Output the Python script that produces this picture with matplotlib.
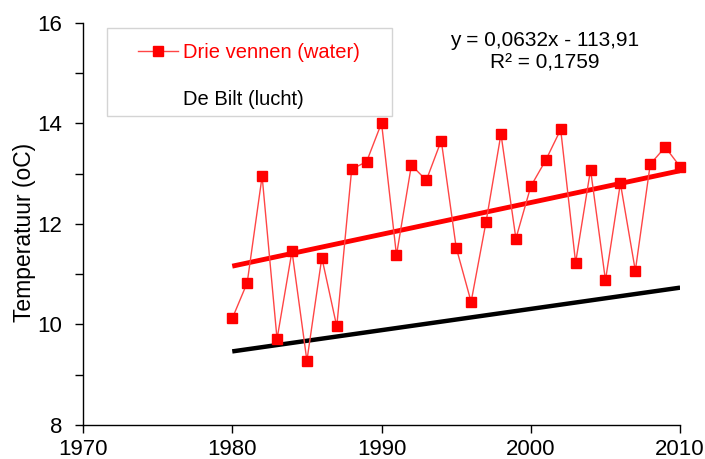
import matplotlib
matplotlib.use('Agg')
import matplotlib.pyplot as plt
from matplotlib.lines import Line2D
from matplotlib.patches import Rectangle
from matplotlib.ticker import MultipleLocator
import numpy as np

plt.rcParams['font.family'] = ['Liberation Sans', 'DejaVu Sans']

# Jaargemiddelde watertemperatuur Drie vennen
jaren = list(range(1980, 2011))
water = [10.12, 10.83, 12.95, 9.71, 11.46, 9.28, 11.33, 9.96, 13.09, 13.24,
         14.01, 11.38, 13.17, 12.87, 13.66, 11.53, 10.45, 12.04, 13.79, 11.71,
         12.75, 13.27, 13.88, 11.23, 13.08, 10.88, 12.81, 11.07, 13.19, 13.53,
         13.14]

# trendlijn De Bilt (lucht), alleen de lijn is getekend
debilt_helling = 0.0423
debilt_snijpunt = -74.29

vergelijking = 'y = 0,0632x - 113,91\nR² = 0,1759'

fig = plt.figure(figsize=(7.05, 4.59), dpi=100)
ax = fig.add_axes([0.1177, 0.0741, 0.847, 0.8759])

x = np.array(jaren, dtype=float)
y = np.array(water)

# meetwaarden
ax.plot(x, y, color='#ff4545', linewidth=1.0, zorder=3, clip_on=False)
ax.plot(x, y, linestyle='none', marker='s', markersize=6.6, color='#ff0000',
        zorder=4, clip_on=False)

# trendlijnen
coef = np.polyfit(x, y, 1)
xt = np.array([x.min(), x.max()])
ax.plot(xt, np.polyval(coef, xt), color='#ff0000', linewidth=3.5, zorder=2,
        solid_capstyle='butt')
ax.plot(xt, debilt_helling * xt + debilt_snijpunt, color='black', linewidth=3.2,
        zorder=2, solid_capstyle='butt')

# assen
ax.set_xlim(1970, 2010)
ax.set_ylim(8, 16)
ax.xaxis.set_major_locator(MultipleLocator(10))
ax.yaxis.set_major_locator(MultipleLocator(2))
ax.yaxis.set_minor_locator(MultipleLocator(1))
for s in ['top', 'right']:
    ax.spines[s].set_visible(False)
for s in ['left', 'bottom']:
    ax.spines[s].set_linewidth(1.0)
ax.tick_params(axis='both', which='both', direction='out', length=6, width=1,
               labelsize=16)
ax.tick_params(axis='y', which='major', pad=9)
ax.tick_params(axis='x', which='major', pad=4)
ax.tick_params(axis='y', which='minor', length=6)
ax.set_ylabel('Temperatuur (oC)', fontsize=16.5)
ax.yaxis.set_label_coords(-0.078, 0.48)

# vergelijking
fig.text(545 / 705, 1 - 52 / 459, vergelijking, fontsize=15, ha='center',
         va='center', linespacing=1.2)

# legenda met eigen kader
fig.patches.append(Rectangle((107 / 705, 1 - 116 / 459), 285 / 705, 88 / 459,
                             transform=fig.transFigure, facecolor='white',
                             edgecolor='#d4d4d4', linewidth=1.0, zorder=5))
handles = [Line2D([], [], color='#ff4545', linewidth=1.0, marker='s',
                  markersize=6.6, markerfacecolor='#ff0000',
                  markeredgecolor='#ff0000'),
           Line2D([], [], linestyle='none')]
leg = fig.legend(handles, ['Drie vennen (water)', 'De Bilt (lucht)'],
                 loc='upper left', bbox_to_anchor=(138 / 705, 1 - 43 / 459),
                 frameon=False, fontsize=14.5, handlelength=2.0,
                 handletextpad=0.25, labelspacing=1.4, borderpad=0,
                 borderaxespad=0)
leg.set_zorder(6)
leg.get_texts()[0].set_color('#ff0000')
leg.get_texts()[1].set_color('black')

fig.savefig('out.png', dpi=100, facecolor='white')
